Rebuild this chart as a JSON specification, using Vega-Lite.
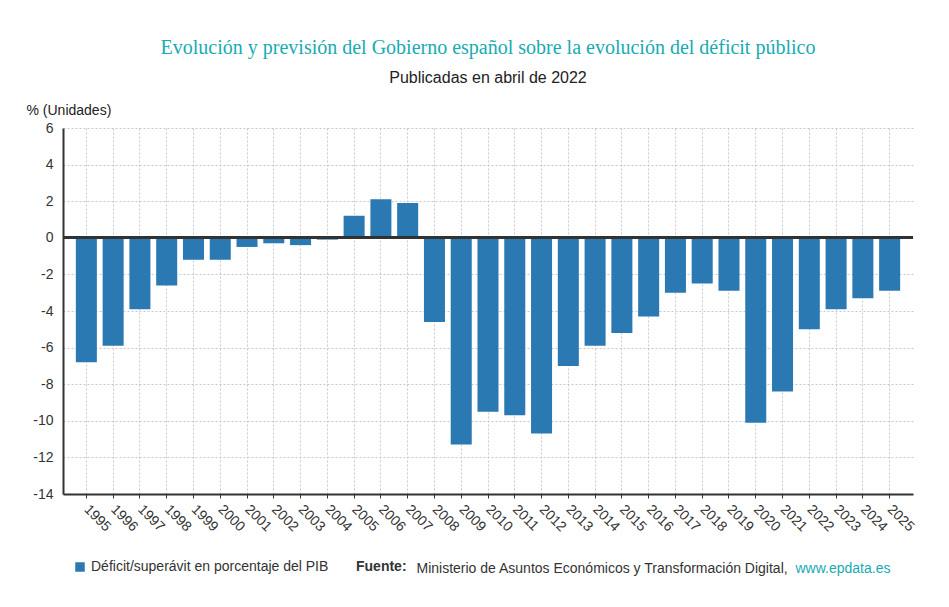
{
  "$schema": "https://vega.github.io/schema/vega-lite/v6.json",
  "width": 850,
  "height": 366,
  "autosize": "none",
  "padding": {"left": 63, "top": 128, "right": 36, "bottom": 113},
  "background": "white",
  "config": {"view": {"stroke": null}, "font": "Liberation Sans"},
  "title": {
    "text": "Evolución y previsión del Gobierno español sobre la evolución del déficit público",
    "subtitle": "Publicadas en abril de 2022",
    "font": "Liberation Serif",
    "fontSize": 20,
    "fontWeight": "normal",
    "color": "#17abb3",
    "subtitleFont": "Liberation Sans",
    "subtitleFontSize": 16,
    "subtitleColor": "#222222",
    "subtitlePadding": 12,
    "anchor": "middle",
    "frame": "group",
    "offset": 17
  },
  "data": {
    "values": [
      {"anio": "1995", "valor": -6.8, "serie": "Déficit/superávit en porcentaje del PIB"},
      {"anio": "1996", "valor": -5.9, "serie": "Déficit/superávit en porcentaje del PIB"},
      {"anio": "1997", "valor": -3.9, "serie": "Déficit/superávit en porcentaje del PIB"},
      {"anio": "1998", "valor": -2.6, "serie": "Déficit/superávit en porcentaje del PIB"},
      {"anio": "1999", "valor": -1.2, "serie": "Déficit/superávit en porcentaje del PIB"},
      {"anio": "2000", "valor": -1.2, "serie": "Déficit/superávit en porcentaje del PIB"},
      {"anio": "2001", "valor": -0.5, "serie": "Déficit/superávit en porcentaje del PIB"},
      {"anio": "2002", "valor": -0.3, "serie": "Déficit/superávit en porcentaje del PIB"},
      {"anio": "2003", "valor": -0.4, "serie": "Déficit/superávit en porcentaje del PIB"},
      {"anio": "2004", "valor": -0.1, "serie": "Déficit/superávit en porcentaje del PIB"},
      {"anio": "2005", "valor": 1.2, "serie": "Déficit/superávit en porcentaje del PIB"},
      {"anio": "2006", "valor": 2.1, "serie": "Déficit/superávit en porcentaje del PIB"},
      {"anio": "2007", "valor": 1.9, "serie": "Déficit/superávit en porcentaje del PIB"},
      {"anio": "2008", "valor": -4.6, "serie": "Déficit/superávit en porcentaje del PIB"},
      {"anio": "2009", "valor": -11.3, "serie": "Déficit/superávit en porcentaje del PIB"},
      {"anio": "2010", "valor": -9.5, "serie": "Déficit/superávit en porcentaje del PIB"},
      {"anio": "2011", "valor": -9.7, "serie": "Déficit/superávit en porcentaje del PIB"},
      {"anio": "2012", "valor": -10.7, "serie": "Déficit/superávit en porcentaje del PIB"},
      {"anio": "2013", "valor": -7.0, "serie": "Déficit/superávit en porcentaje del PIB"},
      {"anio": "2014", "valor": -5.9, "serie": "Déficit/superávit en porcentaje del PIB"},
      {"anio": "2015", "valor": -5.2, "serie": "Déficit/superávit en porcentaje del PIB"},
      {"anio": "2016", "valor": -4.3, "serie": "Déficit/superávit en porcentaje del PIB"},
      {"anio": "2017", "valor": -3.0, "serie": "Déficit/superávit en porcentaje del PIB"},
      {"anio": "2018", "valor": -2.5, "serie": "Déficit/superávit en porcentaje del PIB"},
      {"anio": "2019", "valor": -2.9, "serie": "Déficit/superávit en porcentaje del PIB"},
      {"anio": "2020", "valor": -10.1, "serie": "Déficit/superávit en porcentaje del PIB"},
      {"anio": "2021", "valor": -8.4, "serie": "Déficit/superávit en porcentaje del PIB"},
      {"anio": "2022", "valor": -5.0, "serie": "Déficit/superávit en porcentaje del PIB"},
      {"anio": "2023", "valor": -3.9, "serie": "Déficit/superávit en porcentaje del PIB"},
      {"anio": "2024", "valor": -3.3, "serie": "Déficit/superávit en porcentaje del PIB"},
      {"anio": "2025", "valor": -2.9, "serie": "Déficit/superávit en porcentaje del PIB"}
    ]
  },
  "layer": [
    {
      "mark": {"type": "bar"},
      "encoding": {
        "x": {
          "field": "anio",
          "type": "nominal",
          "sort": null,
          "scale": {"type": "band", "paddingInner": 0.215, "paddingOuter": 0.48},
          "axis": {
            "labelAngle": 45,
            "labelAlign": "left",
            "labelBaseline": "top",
            "labelFontSize": 14,
            "labelColor": "#333333",
            "labelPadding": 4,
            "labelOffset": 5,
            "grid": true,
            "gridDash": [2, 2],
            "gridColor": "#c8c8c8",
            "domainColor": "#333333",
            "domainWidth": 2,
            "tickColor": "#333333",
            "tickSize": 4,
            "title": "Ministerio de Asuntos Económicos y Transformación Digital,",
            "titleX": 353,
            "titleY": 78,
            "titleAlign": "left",
            "titleBaseline": "alphabetic",
            "titleFontSize": 14,
            "titleFontWeight": "normal",
            "titleColor": "#333333"
          }
        },
        "y": {
          "field": "valor",
          "type": "quantitative",
          "scale": {"domain": [-14, 6], "nice": false, "zero": false},
          "axis": {
            "values": [-14, -12, -10, -8, -6, -4, -2, 0, 2, 4, 6],
            "labelExpr": "'' + datum.value",
            "labelFontSize": 14,
            "labelColor": "#333333",
            "labelPadding": 10,
            "tickSize": 0,
            "grid": true,
            "gridDash": [2, 2],
            "gridColor": "#c8c8c8",
            "domainColor": "#333333",
            "domainWidth": 2,
            "title": "% (Unidades)",
            "titleAngle": 0,
            "titleX": -37,
            "titleY": -14,
            "titleAlign": "left",
            "titleBaseline": "alphabetic",
            "titleFontSize": 14,
            "titleFontWeight": "normal",
            "titleColor": "#222222"
          }
        },
        "color": {
          "field": "serie",
          "type": "nominal",
          "scale": {"range": ["#2a79b2"]},
          "legend": {
            "orient": "none",
            "legendX": 10,
            "legendY": 432,
            "symbolType": "square",
            "symbolSize": 90,
            "symbolStrokeWidth": 0,
            "labelFontSize": 14,
            "labelColor": "#333333",
            "labelLimit": 500,
            "title": "Fuente:",
            "titleOrient": "right",
            "titleFontSize": 14,
            "titleFontWeight": "bold",
            "titleColor": "#333333",
            "titlePadding": 28,
            "titleBaseline": "middle"
          }
        }
      }
    },
    {
      "mark": {"type": "rule", "color": "#333333", "strokeWidth": 2},
      "encoding": {
        "y": {
          "datum": 0,
          "type": "quantitative",
          "scale": {"domain": [-14, 6], "nice": false, "zero": false},
          "axis": {
            "orient": "right",
            "labels": false,
            "ticks": false,
            "domain": false,
            "grid": false,
            "title": "www.epdata.es",
            "titleAngle": 0,
            "titleX": -118,
            "titleY": 444,
            "titleAlign": "left",
            "titleBaseline": "alphabetic",
            "titleFontSize": 14,
            "titleFontWeight": "normal",
            "titleColor": "#17abb3"
          }
        }
      }
    }
  ],
  "resolve": {"scale": {"y": "independent"}, "axis": {"y": "independent"}}
}
